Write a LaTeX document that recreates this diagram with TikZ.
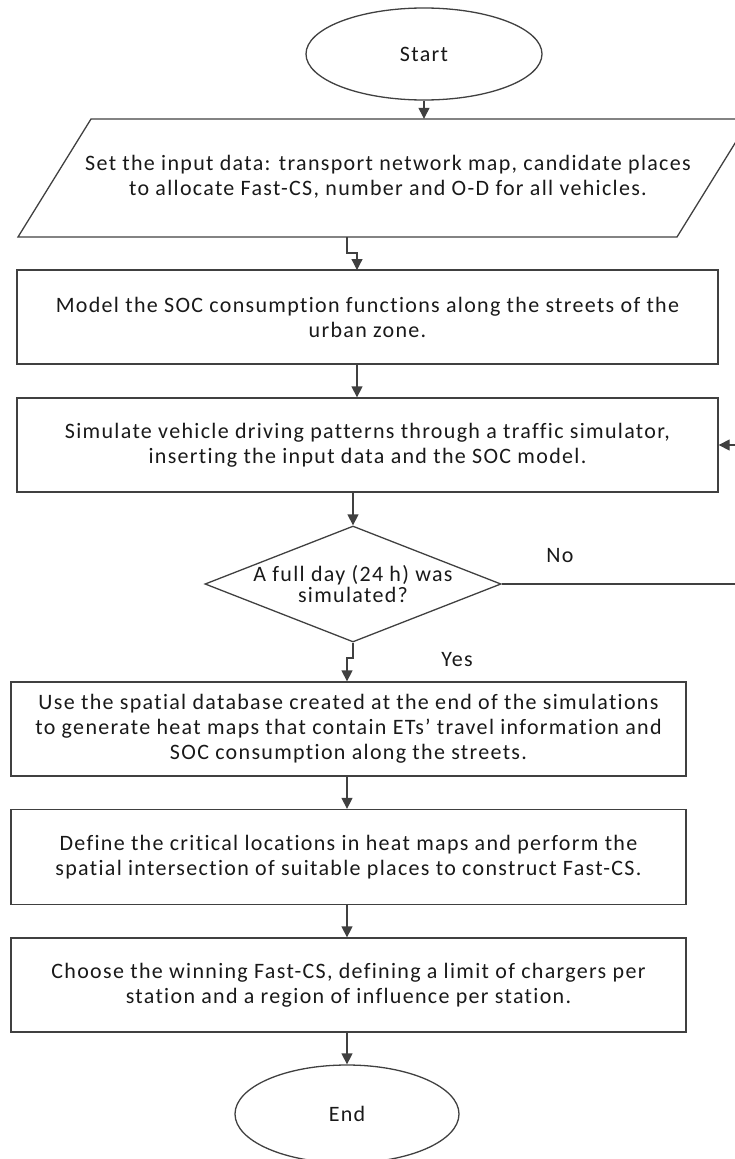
\documentclass[tikz,border=0pt]{standalone}
\usepackage{fontspec}
\setmainfont{Carlito}[LetterSpace=6,Ligatures=NoCommon]
\usetikzlibrary{shapes.geometric,arrows.meta}
\begin{document}
\begin{tikzpicture}[x=1pt,y=-1pt,
  line/.style={draw=black!75,line width=1.3pt},
  arr/.style={line,-{Triangle[length=11pt,width=11pt]}},
  boxst/.style={line, rectangle, inner sep=0pt, align=center},
  txt/.style={font=\fontsize{22}{25}\selectfont, align=center, text=black!90},
  lbl/.style={font=\fontsize{22}{22}\selectfont, text=black!90}]
\useasboundingbox (0,0) rectangle (735,1159);
\clip (0,0) rectangle (735,1159);
% Start
\node[line, ellipse, minimum width=236pt, minimum height=92pt, txt] (start) at (424,54) {Start};
% input parallelogram
\draw[line] (91,119) -- (750,119) -- (677,237) -- (18,237) -- cycle;
\node[minimum width=660pt, minimum height=118pt, inner sep=0pt] (inp) at (384,178) {};
\node[txt] (inptxt) at (388,177) {Set the input data: transport network map, candidate places\\to allocate Fast-CS, number and O-D for all vehicles.};
% boxes
\node[boxst, minimum width=701pt, minimum height=94pt, txt] (b1) at (367.5,317) {Model the SOC consumption functions along the streets of the\\urban zone.};
\node[boxst, minimum width=701pt, minimum height=94pt, txt] (b2) at (367.5,445) {Simulate vehicle driving patterns through a traffic simulator,\\inserting the input data and the SOC model.};
\node[line, diamond, aspect=2.6, minimum width=292pt, minimum height=116pt, inner sep=0pt, txt, font=\fontsize{22}{21}\selectfont] (d) at (353,584) {A full day (24 h) was\\simulated?};
\node[boxst, minimum width=675pt, minimum height=94pt, txt] (b3) at (348.5,729) {Use the spatial database created at the end of the simulations\\to generate heat maps that contain ETs’ travel information and\\SOC consumption along the streets.};
\node[boxst, minimum width=675pt, minimum height=95pt, txt] (b4) at (348.5,857) {Define the critical locations in heat maps and perform the\\spatial intersection of suitable places to construct Fast-CS.};
\node[boxst, minimum width=675pt, minimum height=94pt, txt] (b5) at (348.5,985) {Choose the winning Fast-CS, defining a limit of chargers per\\station and a region of influence per station.};
\node[line, ellipse, minimum width=224pt, minimum height=98pt, txt] (end) at (347,1114) {End};
% connectors
\coordinate (c1) at (347,237);
\draw[arr] (start.south) -- (inp.north -| start.south);
\draw[arr] (c1) -- (347,253) -- (357,253) -- (357,270);
\draw[arr] (b1.south -| 357,0) -- (b2.north -| 357,0);
\draw[arr] (b2.south -| d.north) -- (d.north);
\coordinate (rr) at (736,584);
\draw[line] (d.east) -- (rr) -- (rr |- b2.east);
\draw[arr] (rr |- b2.east) -- (b2.east);
\node[lbl] (no) at (560,556) {No};
\draw[arr] (d.south) -- (353,658) -- (347,658) -- (b3.north -| 347,0);
\node[lbl] (yes) at (457,660) {Yes};
\draw[arr] (b3.south -| 347,0) -- (b4.north -| 347,0);
\draw[arr] (b4.south -| 347,0) -- (b5.north -| 347,0);
\draw[arr] (b5.south -| end.north) -- (end.north);
\end{tikzpicture}
\end{document}
